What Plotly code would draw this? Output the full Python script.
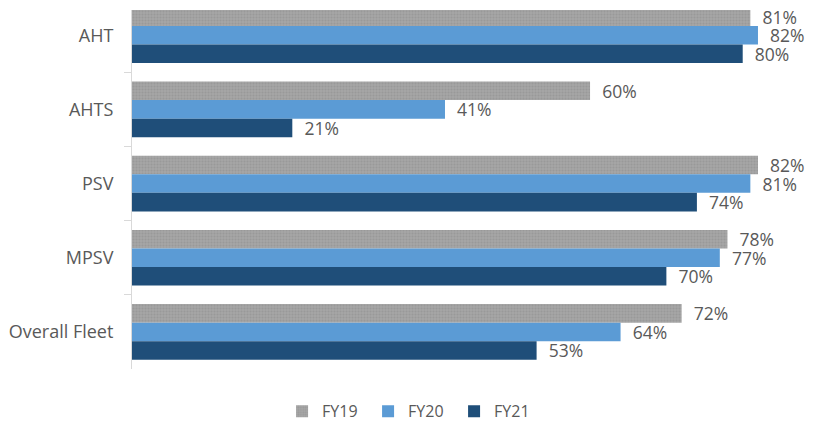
import plotly.graph_objects as go

categories = ["AHT", "AHTS", "PSV", "MPSV", "Overall Fleet"]
series_names = ["FY19", "FY20", "FY21"]
fy19 = [0.81, 0.60, 0.82, 0.78, 0.72]
fy20 = [0.82, 0.41, 0.81, 0.77, 0.64]
fy21 = [0.80, 0.21, 0.74, 0.70, 0.53]
colors = ["#A5A5A5", "#5B9BD5", "#1F4E79"]

fig = go.Figure()
for name, vals, col in zip(series_names, [fy19, fy20, fy21], colors):
    marker = dict(color=col, line=dict(width=0))
    if name == "FY19":
        marker["pattern"] = dict(shape=".", fgcolor="#8E8E8E", bgcolor=col, size=3, solidity=0.35)
    fig.add_trace(go.Bar(
        y=categories, x=vals, name=name, orientation="h",
        marker=marker,
        text=[f"  {round(v*100)}%" for v in vals],
        textposition="outside",
        constraintext="none",
        textfont=dict(size=17.5, color="#595959", family="Open Sans"),
        cliponaxis=False,
    ))

fig.update_layout(
    width=808, height=416,
    margin=dict(l=124, r=0, t=2, b=55, autoexpand=False),
    barmode="group", bargap=0.25, bargroupgap=0,
    plot_bgcolor="white", paper_bgcolor="white",
    font=dict(family="Open Sans", color="#595959", size=14),
    showlegend=True,
    legend=dict(orientation="h", x=0.408, xanchor="center", y=-0.165, yanchor="bottom",
                font=dict(size=16, color="#595959"), itemwidth=30, traceorder="normal",
                entrywidth=41),
    xaxis=dict(range=[0, 0.896], visible=False),
    yaxis=dict(range=[4.5, -0.34], showline=True, linecolor="#D9D9D9", linewidth=1,
               ticks="outside", tickson="boundaries", ticklen=7, tickcolor="#D9D9D9",
               showgrid=False, automargin=False,
               tickfont=dict(size=18, color="#595959"), ticklabelstandoff=14),
)

fig.write_html("out.html")
